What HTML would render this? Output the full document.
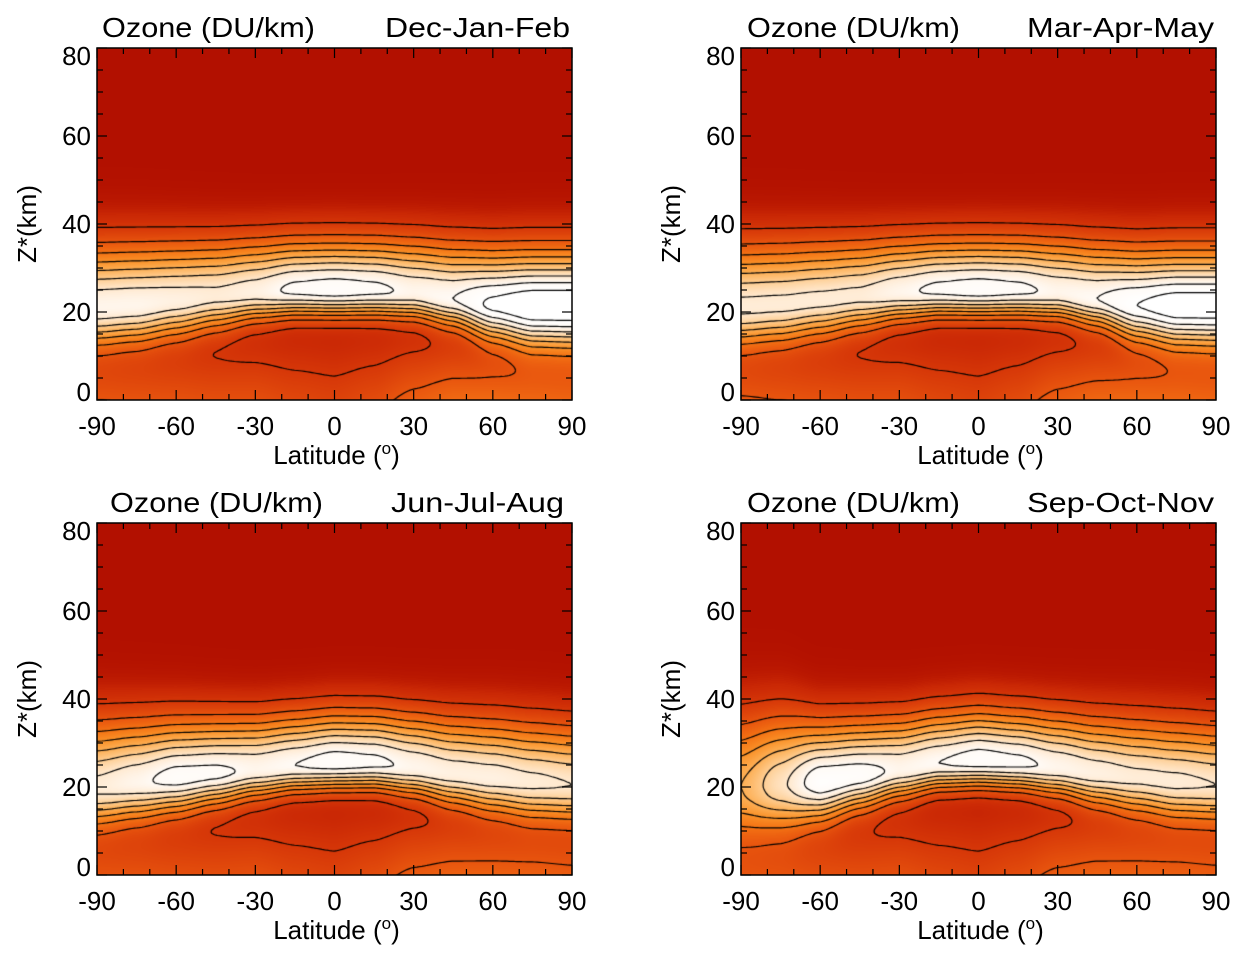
<!DOCTYPE html>
<html><head><meta charset="utf-8">
<style>
html,body{margin:0;padding:0;background:#fff;}
body{width:1245px;height:957px;position:relative;overflow:hidden;font-family:"Liberation Sans",sans-serif;}
canvas{position:absolute;}
svg{position:absolute;left:0;top:0;}
</style></head>
<body>
<canvas id="c0" width="475" height="352" style="left:97px;top:48px"></canvas>
<canvas id="c1" width="475" height="352" style="left:741px;top:48px"></canvas>
<canvas id="c2" width="475" height="352" style="left:97px;top:523px"></canvas>
<canvas id="c3" width="475" height="352" style="left:741px;top:523px"></canvas>
<svg id="ov" width="1245" height="957"></svg>
<script>
const LATS=[-90,-75,-60,-45,-30,-15,0,15,30,45,60,75,90];
const DJF_PEAKZ=[21,21.5,22.5,23.5,24.5,25,25,25,24.5,23,21.5,21,21];
const DJF_PEAKV=[15.5,15.5,15,14.5,15,16.5,17,16.5,15.5,16,18.5,20,20];
const DJF_SUP=[9,8.8,8.4,8,7.6,7.4,7.4,7.4,7.6,8,8.3,8.5,8.5];
const DJF_SDOWN=[5.5,5.4,5.2,4.8,4.3,4,4,4,4,4.2,5,5.8,6];
const DJF_TROPO=[4,3.9,3.8,3.6,3.6,3.1,2.8,3.4,4.6,5.4,5.4,5.2,5];
const MAM_PEAKZ=[21,21.5,22.5,23.5,24.5,25,25,25,24.5,23,21.5,21,21];
const MAM_PEAKV=[14.5,14.5,14.5,14.5,15.5,16.5,17,16.5,15.5,16,18,19.5,19.5];
const MAM_SUP=[9,8.8,8.4,8,7.6,7.4,7.4,7.4,7.6,8,8.3,8.5,8.5];
const MAM_SDOWN=[5.5,5.4,5.2,4.8,4.3,4,4,4,4,4.2,5,5.6,5.8];
const MAM_TROPO=[4.2,4,3.8,3.6,3.6,3.1,2.8,3.4,4.6,5.2,5.3,5.2,5];
const JJA_PEAKZ=[20,21,22,23,24,25,25.5,25.5,24.5,23,22,21,20.5];
const JJA_PEAKV=[14.5,15.5,16.8,16.5,15.5,16,17,16.5,15.5,15,15,14.5,14];
const JJA_SUP=[9.5,9,8.5,8,7.6,7.4,7.4,7.4,7.6,8,8.3,8.5,8.5];
const JJA_SDOWN=[5.5,5.3,5,4.6,4.2,4,4,4,4.2,4.6,5,5.2,5.2];
const JJA_TROPO=[3.8,3.8,3.6,3.5,3.6,3.1,2.8,3.4,4.4,4.8,4.8,4.7,4.5];
const SON_PEAKZ=[20,20.5,21,22.5,24,25.5,26,25.5,24.5,23,22,21,20.5];
const SON_PEAKV=[10,13.5,17.5,17,15.5,16,17,16.5,15.5,15,14.5,14.5,14];
const SON_SUP=[10.5,10,8.6,8,7.6,7.4,7.4,7.4,7.6,8,8.3,8.5,8.5];
const SON_SDOWN=[7,6.5,5.5,4.8,4.3,4,4,4,4.2,4.6,5,5.2,5.2];
const SON_TROPO=[3.8,3.8,3.6,3.5,3.6,3.1,2.8,3.4,4.4,4.8,4.8,4.7,4.5];
const SEASON_NAMES=["Dec-Jan-Feb","Mar-Apr-May","Jun-Jul-Aug","Sep-Oct-Nov"];
const CONTOUR_LEVELS=[2,4,6,8,10,12,14,16,18];
const Y_TICKS=[0,20,40,60,80];
const X_TICKS=[-90,-60,-30,0,30,60,90];

const SEASONS=[
 [DJF_PEAKZ,DJF_PEAKV,DJF_SUP,DJF_SDOWN,DJF_TROPO],
 [MAM_PEAKZ,MAM_PEAKV,MAM_SUP,MAM_SDOWN,MAM_TROPO],
 [JJA_PEAKZ,JJA_PEAKV,JJA_SUP,JJA_SDOWN,JJA_TROPO],
 [SON_PEAKZ,SON_PEAKV,SON_SUP,SON_SDOWN,SON_TROPO]];
const PANELS=[[97,48],[741,48],[97,523],[741,523]];
const W=475,H=352;

function interp(arr,lat){
  let t=(lat+90)/15; let i=Math.floor(t); if(i<0)i=0; if(i>=arr.length-1)i=arr.length-2;
  let f=t-i; f=f*f*(3-2*f)*0.5+f*0.5;
  return arr[i]*(1-f)+arr[i+1]*f;
}
function field(s,lat,z){
  const pz=interp(s[0],lat),pv=interp(s[1],lat),su=interp(s[2],lat),sd=interp(s[3],lat),tr=interp(s[4],lat);
  const dz=z-pz, sg=dz>0?su:sd, d=dz/sg;
  return pv*Math.exp(-0.5*d*d)+tr*Math.max(0,1-z/19);
}
const CMAP=[[0,178,16,0],[0.4,186,24,1],[1,202,40,5],[2,214,55,8],[4,232,85,14],[6,244,115,20],[8,250,145,40],[10,253,175,85],[12,254,205,145],[14,255,232,205],[16,255,250,245],[18,255,255,255]];
function color(v){
  if(v<=0)return CMAP[0].slice(1);
  for(let i=0;i<CMAP.length-1;i++){const a=CMAP[i],b=CMAP[i+1];
    if(v<=b[0]){const f=(v-a[0])/(b[0]-a[0]);return [a[1]+(b[1]-a[1])*f,a[2]+(b[2]-a[2])*f,a[3]+(b[3]-a[3])*f];}}
  return [255,255,255];
}
const xs=lat=>(lat+90)/180*W;
const zs=z=>H*(1-z/80);
SEASONS.forEach((s,pi)=>{
  const cv=document.getElementById('c'+pi),ctx=cv.getContext('2d');
  const img=ctx.createImageData(W,H);
  for(let y=0;y<H;y++)for(let x=0;x<W;x++){
    const lat=-90+180*(x+0.5)/W, z=80*(1-(y+0.5)/H);
    const c=color(field(s,lat,z)); const k=(y*W+x)*4;
    img.data[k]=c[0];img.data[k+1]=c[1];img.data[k+2]=c[2];img.data[k+3]=255;}
  ctx.putImageData(img,0,0);
  const st=2.5,nx=Math.ceil(W/st),ny=Math.ceil(H/st);
  const G=[];
  for(let j=0;j<=ny;j++){G[j]=[];for(let i=0;i<=nx;i++){G[j][i]=field(s,-90+180*(i*st)/W,80*(1-(j*st)/H));}}
  ctx.strokeStyle='#000';ctx.lineWidth=1.2;ctx.beginPath();
  CONTOUR_LEVELS.forEach(L=>{
    for(let j=0;j<ny;j++)for(let i=0;i<nx;i++){
      const a=G[j][i],b=G[j][i+1],c=G[j+1][i+1],d=G[j+1][i];
      const pts=[];
      const e=(v1,v2,x1,y1,x2,y2)=>{const f=(L-v1)/(v2-v1);pts.push([x1+(x2-x1)*f,y1+(y2-y1)*f]);};
      const x0=i*st,y0=j*st,x1=x0+st,y1=y0+st;
      if((a<L)!=(b<L))e(a,b,x0,y0,x1,y0);
      if((b<L)!=(c<L))e(b,c,x1,y0,x1,y1);
      if((c<L)!=(d<L))e(c,d,x1,y1,x0,y1);
      if((d<L)!=(a<L))e(d,a,x0,y1,x0,y0);
      for(let k=0;k+1<pts.length;k+=2){ctx.moveTo(pts[k][0],pts[k][1]);ctx.lineTo(pts[k+1][0],pts[k+1][1]);}
    }
  });
  ctx.stroke();
});
const NS='http://www.w3.org/2000/svg',ov=document.getElementById('ov');
function mk(tag,attrs,txt){const el=document.createElementNS(NS,tag);for(const k in attrs)el.setAttribute(k,attrs[k]);if(txt!=null)el.textContent=txt;ov.appendChild(el);return el;}
PANELS.forEach((p,pi)=>{
  const [px,py]=p;
  const fr=mk('rect',{x:px,y:py,width:W,height:H,fill:'none',stroke:'#000','stroke-width':1.5});
  
  
  for(let z=0;z<=80;z+=5){const y=py+zs(z),len=z%20==0?10:6;
    mk('line',{x1:px,x2:px+len,y1:y,y2:y,stroke:'#000','stroke-width':1.2});
    mk('line',{x1:px+W-len,x2:px+W,y1:y,y2:y,stroke:'#000','stroke-width':1.2});}
  for(let l=-90;l<=90;l+=10){const x=px+xs(l),len=l%30==0?10:6;
    mk('line',{x1:x,x2:x,y1:py+H-len,y2:py+H,stroke:'#000','stroke-width':1.2});
    mk('line',{x1:x,x2:x,y1:py,y2:py+len,stroke:'#000','stroke-width':1.2});}
  Y_TICKS.forEach(z=>{let y=py+zs(z)+9; if(z==0)y-=8; if(z==80)y+=8;
    const t=mk('text',{x:px-6,y:y,'text-anchor':'end','font-size':26,fill:'#000'},String(z));
    
    });
  X_TICKS.forEach(l=>{
    const t=mk('text',{x:px+xs(l),y:py+H+35,'text-anchor':'middle','font-size':26,fill:'#000'},String(l));
    
    });
  const xt=mk('text',{x:px+W/2+2,y:py+H+64,'text-anchor':'middle','font-size':26,fill:'#000'},'Latitude (');
  const sup=document.createElementNS(NS,'tspan');sup.setAttribute('dy','-10');sup.setAttribute('font-size','17');sup.textContent='o';xt.appendChild(sup);
  const cl=document.createElementNS(NS,'tspan');cl.setAttribute('dy','10');cl.textContent=')';xt.appendChild(cl);
  
  
  const yt=mk('text',{x:0,y:0,'text-anchor':'middle','font-size':26,fill:'#000',transform:`translate(${px-61},${py+H/2}) rotate(-90)`},'Z*(km)');
  
  
  const tx=pi==0?102:(pi==2?110:747);
  const tt=mk('text',{x:tx,y:py-11,'font-size':28,fill:'#000',textLength:213,lengthAdjust:'spacingAndGlyphs'},'Ozone (DU/km)');
  
  
  const sw=[185,187,173,187][pi];
  const ex=pi==2?px+W-8:px+W-2;
  const st=mk('text',{x:ex-sw,y:py-11,'font-size':28,fill:'#000',textLength:sw,lengthAdjust:'spacingAndGlyphs'},SEASON_NAMES[pi]);
  
  
});
</script>
</body></html>
